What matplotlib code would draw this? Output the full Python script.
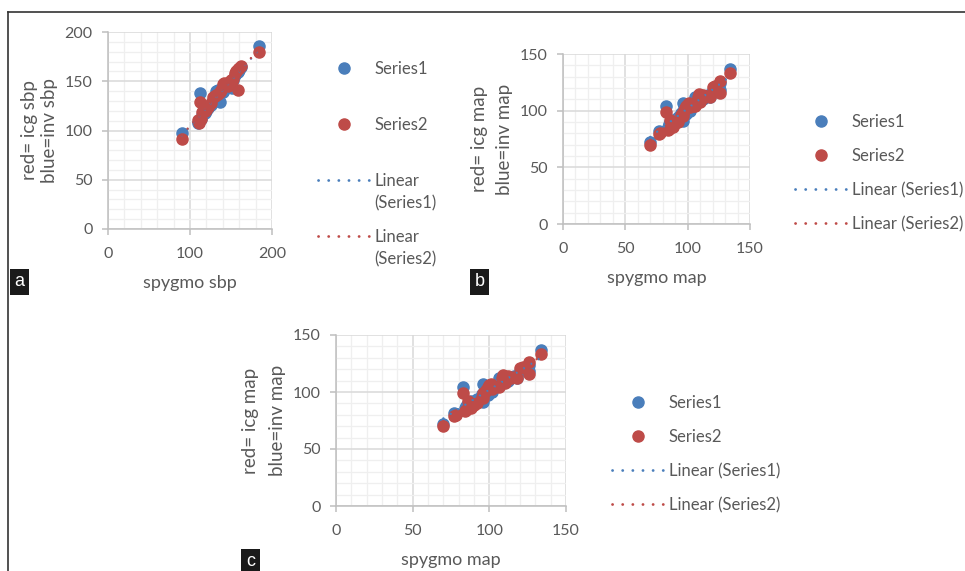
import numpy as np
import matplotlib
matplotlib.use('Agg')
import matplotlib.pyplot as plt
from matplotlib.lines import Line2D
from matplotlib.ticker import MultipleLocator

# panel a: systolic pressure (spygmo vs invasive / icg)
sbp_spygmo = [90, 110, 111, 112, 113, 115, 118, 120, 122, 125, 128, 130, 132, 134, 137,
              138, 140, 142, 144, 146, 148, 150, 151, 153, 155, 156, 158, 159, 160, 162, 184]
sbp_inv = [97, 108, 110, 138, 112, 116, 118, 120, 123, 126, 131, 133, 140, 141, 129,
           142, 139, 141, 145, 144, 147, 149, 143, 151, 156, 158, 160, 159, 161, 164, 186]
sbp_icg = [91, 111, 108, 129, 112, 119, 120, 121, 124, 128, 134, 135, 136, 137, 139,
           141, 147, 148, 146, 145, 149, 151, 150, 152, 158, 160, 162, 141, 163, 165, 180]

# panels b and c: mean arterial pressure
map_spygmo = [70, 77, 78, 83, 84, 85, 86, 88, 90, 92, 95, 96, 96, 97, 98, 99, 100, 101,
              102, 104, 106, 108, 109, 110, 112, 114, 116, 118, 120, 122, 126, 126, 134]
map_inv = [72, 82, 81, 104, 86, 88, 90, 92, 91, 94, 98, 91, 107, 104, 100, 97, 102, 104,
           100, 106, 112, 108, 112, 113, 110, 112, 114, 112, 118, 120, 124, 118, 137]
map_icg = [70, 79, 80, 99, 83, 84, 92, 86, 89, 90, 96, 99, 95, 100, 102, 104, 106, 107,
           103, 104, 104, 112, 115, 108, 114, 112, 113, 112, 121, 122, 126, 116, 133]

BLUE = '#4A7EBB'
RED = '#BE4B48'
TXT = '#595959'
FONT = 'Lato'
DOTS = (0, (0.05, 3.6))

W, H = 965, 571
plt.rcParams['font.family'] = [FONT, 'DejaVu Sans']
fig = plt.figure(figsize=(W / 100, H / 100), dpi=100)


def px_axes(x0, y0, x1, y1):
    return fig.add_axes([x0 / W, 1 - y1 / H, (x1 - x0) / W, (y1 - y0) / H])


def draw_panel(ax, x, s1, s2, lim, major_x, minor_x, xlabel, ylabel, ylinesp):
    ax.set_xlim(0, lim)
    ax.set_ylim(0, lim)
    ax.xaxis.set_major_locator(MultipleLocator(major_x))
    ax.xaxis.set_minor_locator(MultipleLocator(minor_x))
    ax.yaxis.set_major_locator(MultipleLocator(50))
    ax.yaxis.set_minor_locator(MultipleLocator(10))
    ax.grid(which='major', color='#D9D9D9', lw=1.1)
    ax.grid(which='minor', color='#EFEFEF', lw=0.9)
    ax.set_axisbelow(True)
    for side in ['top', 'right']:
        ax.spines[side].set_visible(False)
    for side in ['left', 'bottom']:
        ax.spines[side].set_color('#BFBFBF')
        ax.spines[side].set_linewidth(1.1)
    ax.tick_params(which='major', direction='out', length=4, width=1.1,
                   color='#BFBFBF', labelcolor=TXT, labelsize=11.5)
    ax.tick_params(axis='x', pad=9)
    ax.tick_params(axis='y', pad=7)
    ax.tick_params(which='minor', length=0)

    x = np.array(x)
    ax.scatter(x, s1, s=64, color=BLUE, zorder=3, clip_on=False)
    ax.scatter(x, s2, s=64, color=RED, zorder=3, clip_on=False)
    xs = np.array([x.min(), x.max()])
    for ser, col in [(s1, BLUE), (s2, RED)]:
        k, b = np.polyfit(x, ser, 1)
        ax.plot(xs, k * xs + b, color=col, lw=1.7, ls=DOTS,
                dash_capstyle='round', zorder=4)

    ax.set_xlabel(xlabel, fontsize=13, color=TXT, labelpad=10)
    ax.set_ylabel(ylabel, fontsize=13.5, color=TXT, labelpad=5,
                  linespacing=ylinesp)


def dot_handle(col):
    return Line2D([], [], ls='none', marker='o', ms=8, color=col)


def line_handle(col):
    return Line2D([], [], color=col, lw=2, ls=DOTS, dash_capstyle='round')


BLANK = Line2D([], [], ls='none')


def legend(x0, y0, handles, labels, spacing):
    fig.legend(handles, labels, loc='upper left', frameon=False,
               bbox_to_anchor=(x0 / W, 1 - y0 / H), bbox_transform=fig.transFigure,
               fontsize=12, labelcolor=TXT, handlelength=3.1, handletextpad=0.3,
               labelspacing=spacing, borderpad=0, borderaxespad=0)


# panel a
ax_a = px_axes(108, 32, 272, 229)
draw_panel(ax_a, sbp_spygmo, sbp_inv, sbp_icg, 200, 100, 20,
           'spygmo sbp', 'red= icg sbp\nblue=inv sbp', 1.2)
legend(318, 61, [dot_handle(BLUE), dot_handle(RED)], ['Series1', 'Series2'], 2.4)
legend(318, 173, [line_handle(BLUE), BLANK], ['Linear', '(Series1)'], 0.37)
legend(318, 229, [line_handle(RED), BLANK], ['Linear', '(Series2)'], 0.37)

# panel b
ax_b = px_axes(563, 54, 750, 224)
draw_panel(ax_b, map_spygmo, map_inv, map_icg, 150, 50, 10,
           'spygmo map', 'red= icg map\nblue=inv map', 1.55)
legend(795, 114, [dot_handle(BLUE), dot_handle(RED), line_handle(BLUE), line_handle(RED)],
       ['Series1', 'Series2', 'Linear (Series1)', 'Linear (Series2)'], 1.08)

# panel c
ax_c = px_axes(336, 335, 566, 506)
draw_panel(ax_c, map_spygmo, map_inv, map_icg, 150, 50, 10,
           'spygmo map', 'red= icg map\nblue=inv map', 1.7)
legend(612, 395, [dot_handle(BLUE), dot_handle(RED), line_handle(BLUE), line_handle(RED)],
       ['Series1', 'Series2', 'Linear (Series1)', 'Linear (Series2)'], 1.08)

# frame lines
fig.add_artist(Line2D([8 / W, 1], [1 - 12 / H, 1 - 12 / H], color='#333333', lw=1.2,
                      transform=fig.transFigure))
fig.add_artist(Line2D([8 / W, 8 / W], [1 - 12 / H, 0], color='#333333', lw=1.2,
                      transform=fig.transFigure))

# panel letters
for letter, (px, py) in {'a': (19.5, 282), 'b': (479.5, 282), 'c': (250.5, 562)}.items():
    fig.text(px / W, 1 - py / H, letter, color='white', fontsize=13,
             family='Liberation Sans', ha='center', va='center',
             bbox=dict(boxstyle='square,pad=0.25', fc='#1A1A1A', ec='none'))

fig.savefig('out.png', dpi=100)
